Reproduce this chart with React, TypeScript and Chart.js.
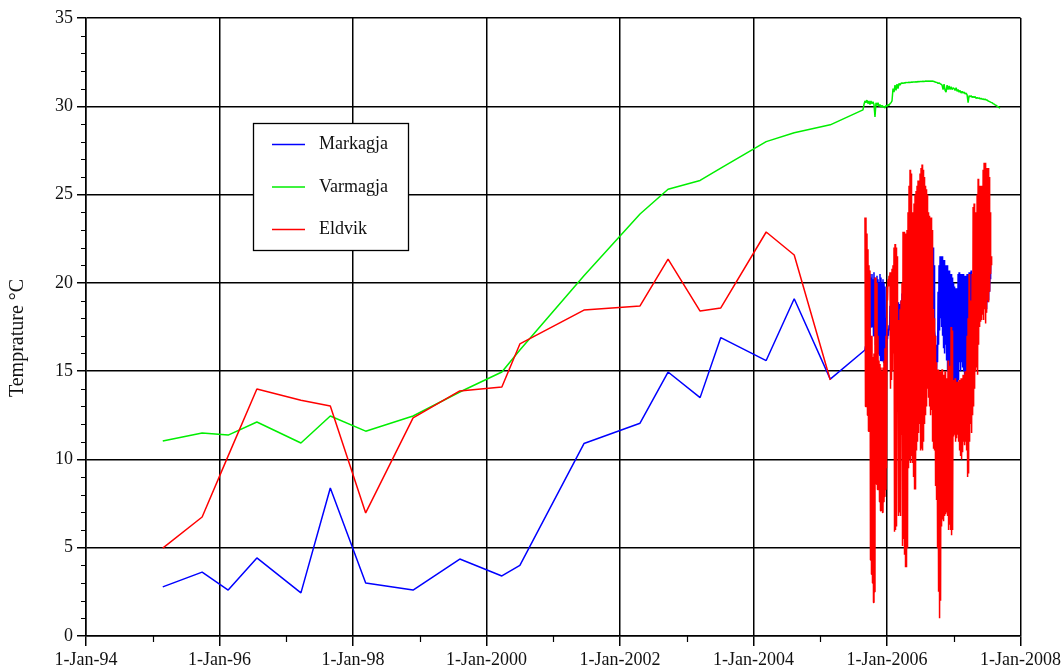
import React, { useEffect, useRef } from 'react';
import { Chart, registerables } from 'chart.js';

Chart.register(...registerables);

// Axis ticks
const X_TICK_YEARS = [1994, 1996, 1998, 2000, 2002, 2004, 2006, 2008];
const X_TICK_LABELS = ['1-Jan-94', '1-Jan-96', '1-Jan-98', '1-Jan-2000', '1-Jan-2002', '1-Jan-2004', '1-Jan-2006', '1-Jan-2008'];
const X_MINOR_YEARS = [1995, 1997, 1999, 2001, 2003, 2005, 2007];
const Y_TICKS = [0, 5, 10, 15, 20, 25, 30, 35];
const Y_MINOR_TICKS = [1, 2, 3, 4, 6, 7, 8, 9, 11, 12, 13, 14, 16, 17, 18, 19, 21, 22, 23, 24, 26, 27, 28, 29, 31, 32, 33, 34];
const Y_TITLE = 'Temprature °C';

// Spot survey dates (decimal years) and temperatures (°C)
const SURVEY_DATES = [1995.15, 1995.74, 1996.13, 1996.56, 1997.22, 1997.66, 1998.19, 1998.9, 1999.6, 2000.23, 2000.5, 2001.46, 2002.3, 2002.72, 2003.2, 2003.51, 2004.19, 2004.61, 2005.15];
const MARKAGJA_SURVEY = [2.78, 3.62, 2.6, 4.42, 2.44, 8.38, 3.0, 2.6, 4.36, 3.4, 4.0, 10.9, 12.05, 14.95, 13.5, 16.9, 15.6, 19.1, 14.55];
const VARMAGJA_SURVEY = [11.04, 11.5, 11.38, 12.12, 10.93, 12.46, 11.6, 12.46, 13.82, 14.95, 16.2, 20.4, 23.9, 25.3, 25.8, 26.5, 28.0, 28.5, 28.95];
const ELDVIK_SURVEY = [4.98, 6.74, 10.2, 13.99, 13.35, 13.03, 6.97, 12.35, 13.88, 14.1, 16.54, 18.46, 18.69, 21.35, 18.4, 18.58, 22.88, 21.58, 14.5];

// Continuous loggers (readings every ~2.7 days from late 2005)
const LOGGER_START = 2005.67;
const LOGGER_STEP = 0.0075;
const MARKAGJA_LOGGER = [
  16.2, 16.4, 17.5, 16.4, 18.5, 16.0, 20.5, 17.0, 20.7, 16.5,
  20.5, 18.0, 20.3, 17.5, 20.5, 18.0, 20.2, 17.0, 20.6, 17.2,
  20.3, 16.5, 20.0, 17.0, 20.4, 16.0, 20.2, 16.0, 20.0, 15.9,
  20.5, 15.6, 20.3, 15.6, 20.0, 15.6, 20.2, 15.5, 20.0, 15.3,
  19.8, 15.2, 18.0, 15.0, 17.2, 16.8, 17.4, 17.0, 17.6, 17.3,
  18.7, 17.5, 18.9, 17.7, 18.0, 17.7, 18.0, 17.8, 18.2, 17.9,
  18.3, 18.0, 18.5, 18.0, 18.6, 18.2, 18.9, 17.5, 18.8, 17.9,
  18.5, 16.0, 19.0, 16.0, 19.4, 18.0, 19.3, 17.5, 19.5, 18.5,
  19.8, 18.7, 19.6, 18.4, 20.0, 18.8, 19.7, 18.6, 20.1, 18.9,
  19.9, 18.8, 20.2, 19.0, 20.0, 18.7, 20.3, 19.1, 20.1, 18.9,
  20.4, 19.2, 20.2, 19.0, 20.5, 18.9, 20.3, 19.2, 20.6, 19.3,
  20.4, 19.1, 20.7, 19.4, 20.5, 19.2, 20.8, 19.5, 20.6, 19.3,
  20.9, 19.6, 20.7, 19.4, 21.0, 19.7, 20.8, 19.5, 21.1, 19.8,
  20.9, 19.6, 21.2, 19.7, 21.5, 19.0, 22.0, 18.5, 21.0, 17.3,
  17.0, 14.8, 16.0, 15.0, 16.5, 15.5, 19.5, 16.5, 21.0, 17.3,
  21.5, 18.0, 21.2, 17.5, 21.5, 17.0, 21.0, 16.3, 21.3, 16.0,
  21.0, 16.5, 20.8, 15.6, 21.0, 15.0, 20.5, 14.5, 20.7, 14.0,
  20.4, 13.6, 20.5, 13.4, 20.3, 13.4, 20.0, 13.5, 19.8, 13.5,
  19.5, 13.4, 19.7, 13.8, 19.6, 14.0, 20.5, 14.5, 20.6, 15.5,
  20.3, 15.0, 20.5, 15.5, 20.2, 15.2, 20.5, 15.0, 20.0, 14.8,
  20.4, 14.5, 20.2, 14.0, 20.5, 13.5, 20.3, 13.4, 20.6, 14.0,
  20.4, 14.0, 20.7, 15.0, 20.5, 16.0, 20.3, 17.0, 20.0, 18.0,
  20.2, 18.3, 19.8, 18.0, 20.1, 18.4, 19.9, 18.2, 20.3, 18.6,
  20.0, 18.3, 20.4, 18.7, 20.1, 18.5, 20.6, 18.8, 20.4, 18.6,
  20.8, 18.9, 21.8, 18.5, 21.5, 18.9, 21.9, 19.0, 21.5, 19.5,
  21.0, 20.2,
];
const ELDVIK_LOGGER = [
  23.7, 13.0, 23.7, 13.0, 22.8, 12.5, 21.9, 11.6, 21.0, 11.6,
  20.7, 4.3, 17.0, 3.5, 17.0, 3.0, 15.8, 1.9, 16.0, 2.5,
  20.3, 8.8, 20.3, 8.6, 20.0, 8.3, 17.0, 8.3, 15.6, 7.6,
  15.4, 7.1, 15.2, 7.4, 15.0, 7.0, 15.2, 7.6, 15.6, 7.9,
  16.3, 8.3, 17.0, 9.5, 19.8, 19.0, 20.2, 19.8, 20.4, 20.0,
  20.6, 14.0, 20.6, 14.5, 20.8, 15.0, 21.0, 16.0, 22.0, 5.9,
  22.2, 6.0, 22.0, 6.2, 21.5, 13.0, 17.9, 6.8, 17.5, 7.0,
  18.5, 6.8, 19.0, 11.4, 20.0, 5.1, 22.9, 5.5, 22.9, 4.6,
  22.5, 3.9, 22.8, 3.9, 23.0, 5.0, 24.0, 9.5, 25.5, 10.0,
  26.4, 9.8, 26.2, 10.2, 24.0, 9.8, 23.8, 9.0, 24.5, 8.3,
  25.0, 8.3, 25.2, 10.5, 25.5, 11.0, 25.8, 11.5, 25.6, 12.0,
  26.2, 10.5, 26.5, 10.6, 26.7, 10.5, 26.4, 11.0, 26.0, 12.0,
  25.5, 12.5, 25.3, 13.0, 25.0, 14.0, 24.0, 13.5, 23.8, 13.0,
  23.5, 12.5, 23.7, 12.8, 23.0, 11.0, 18.5, 10.6, 18.0, 10.5,
  17.0, 8.5, 15.5, 7.7, 15.0, 5.0, 15.1, 2.5, 15.0, 1.0,
  14.8, 2.0, 15.0, 6.2, 15.1, 6.6, 14.5, 6.5, 14.8, 6.8,
  15.0, 6.9, 14.6, 7.0, 14.2, 6.8, 15.6, 6.0, 15.3, 6.3,
  14.0, 6.0, 17.5, 5.7, 17.3, 6.0, 14.5, 11.3, 14.2, 11.4,
  14.6, 11.0, 14.0, 11.2, 14.4, 11.4, 14.0, 11.0, 14.5, 10.5,
  14.2, 10.2, 14.6, 10.0, 14.3, 10.4, 14.8, 11.0, 14.5, 10.8,
  15.0, 11.0, 14.8, 10.5, 17.0, 9.0, 18.0, 9.2, 20.5, 11.0,
  18.5, 12.0, 19.0, 11.5, 20.5, 12.5, 24.3, 13.0, 24.5, 14.0,
  23.5, 15.0, 24.0, 15.2, 25.0, 14.8, 25.9, 16.5, 25.0, 17.5,
  25.5, 17.8, 24.8, 17.9, 25.5, 18.2, 26.4, 17.9, 26.8, 18.5,
  26.8, 17.7, 26.5, 18.3, 26.0, 19.0, 26.5, 18.9, 26.0, 19.5,
  24.0, 20.5, 21.5, 21.0,
];
const ELDVIK_GAP_DATE = 2005.4;

const VARMAGJA_LOGGER_START = 2005.64;
const VARMAGJA_LOGGER_STEP = 0.015;
const VARMAGJA_LOGGER = [
  29.8, 30.1, 30.3, 30.2, 30.35, 30.15, 30.3, 30.1, 30.3, 30.15,
  30.25, 30.1, 29.4, 30.2, 30.05, 30.2, 30.0, 30.1, 29.95, 30.05,
  29.95, 30.0, 29.9, 30.05, 30.0, 30.1, 30.05, 30.15, 30.2, 30.3,
  31.0, 30.8, 31.2, 30.9, 31.25, 31.0, 31.3, 31.2, 31.3, 31.32,
  31.3, 31.33, 31.32, 31.35, 31.34, 31.35, 31.36, 31.35, 31.37, 31.36,
  31.38, 31.37, 31.38, 31.39, 31.38, 31.4, 31.39, 31.4, 31.41, 31.4,
  31.42, 31.41, 31.42, 31.43, 31.42, 31.43, 31.42, 31.43, 31.42, 31.43,
  31.42, 31.4, 31.38, 31.36, 31.35, 31.3, 31.32, 31.28, 31.25, 31.2,
  30.95, 31.25, 30.9, 30.8, 31.2, 30.95, 31.15, 30.95, 31.1, 30.95,
  31.05, 31.0, 30.9, 31.05, 30.85, 30.95, 30.8, 30.9, 30.75, 30.85,
  30.75, 30.8, 30.7, 30.75, 30.65, 30.2, 30.6, 30.55, 30.6, 30.5,
  30.55, 30.5, 30.55, 30.45, 30.5, 30.45, 30.48, 30.42, 30.45, 30.4,
  30.42, 30.38, 30.4, 30.36, 30.35, 30.3, 30.28, 30.25, 30.22, 30.2,
  30.15, 30.12, 30.08, 30.05, 30.0, 29.97, 29.93, 29.9,
];

const FONT_FAMILY = "'Liberation Serif', 'DejaVu Serif', serif";
const TEXT_COLOR = '#111';
const LINE_WIDTH = 1.5;

type Pt = { x: number; y: number | null };

const surveyPoints = (values: number[]): Pt[] => SURVEY_DATES.map((d, i) => ({ x: d, y: values[i] }));
const loggerPoints = (start: number, step: number, values: number[]): Pt[] =>
  values.map((v, i) => ({ x: start + i * step, y: v }));

// Short minor tick marks (every degree on y, every year on x) plus the rotated y title
const axisExtrasPlugin = {
  id: 'axisExtras',
  afterDraw(chart: any) {
    const { ctx } = chart;
    const xs = chart.scales.x;
    const ys = chart.scales.y;
    ctx.save();
    ctx.strokeStyle = '#000';
    ctx.lineWidth = 1.2;
    ctx.beginPath();
    for (const v of Y_MINOR_TICKS) {
      const py = Math.round(ys.getPixelForValue(v)) + 0.5;
      ctx.moveTo(ys.right - 5, py);
      ctx.lineTo(ys.right, py);
    }
    for (const yr of X_MINOR_YEARS) {
      const px = Math.round(xs.getPixelForValue(yr)) + 0.5;
      ctx.moveTo(px, xs.top);
      ctx.lineTo(px, xs.top + 6);
    }
    ctx.stroke();

    ctx.translate(18, 338);
    ctx.rotate(-Math.PI / 2);
    ctx.font = `20px ${FONT_FAMILY}`;
    ctx.fillStyle = TEXT_COLOR;
    ctx.textAlign = 'center';
    ctx.textBaseline = 'middle';
    ctx.fillText(Y_TITLE, 0, 0);
    ctx.restore();
  },
};

const legendOrder = [0, 1, 2];

const boxLegendPlugin = {
  id: 'boxLegend',
  afterDraw(chart: any) {
    const { ctx } = chart;
    const left = 253.5;
    const top = 123.5;
    const width = 155;
    const height = 127;
    ctx.save();
    ctx.fillStyle = '#fff';
    ctx.fillRect(left, top, width, height);
    ctx.strokeStyle = '#000';
    ctx.lineWidth = 1.3;
    ctx.strokeRect(left, top, width, height);
    ctx.font = `18px ${FONT_FAMILY}`;
    ctx.textBaseline = 'middle';
    ctx.textAlign = 'left';
    legendOrder.forEach((idx, i) => {
      const ds = chart.data.datasets[idx];
      const yy = 144.5 + i * 42.5;
      ctx.strokeStyle = ds.borderColor;
      ctx.lineWidth = LINE_WIDTH;
      ctx.beginPath();
      ctx.moveTo(272, yy);
      ctx.lineTo(305, yy);
      ctx.stroke();
      ctx.fillStyle = TEXT_COLOR;
      ctx.fillText(ds.label, 319, yy);
    });
    ctx.restore();
  },
};

export default function App() {
  const canvasRef = useRef<HTMLCanvasElement | null>(null);

  useEffect(() => {
    if (!canvasRef.current) return;
    const font = { family: FONT_FAMILY, size: 18 };
    const chart = new Chart(canvasRef.current, {
      type: 'line',
      data: {
        datasets: [
          {
            label: 'Markagja',
            data: [...surveyPoints(MARKAGJA_SURVEY), ...loggerPoints(LOGGER_START, LOGGER_STEP, MARKAGJA_LOGGER)],
            borderColor: '#0000ff',
            order: 1,
          },
          {
            label: 'Varmagja',
            data: [...surveyPoints(VARMAGJA_SURVEY), ...loggerPoints(VARMAGJA_LOGGER_START, VARMAGJA_LOGGER_STEP, VARMAGJA_LOGGER)],
            borderColor: '#00ee00',
            order: 2,
          },
          {
            label: 'Eldvik',
            data: [
              ...surveyPoints(ELDVIK_SURVEY),
              { x: ELDVIK_GAP_DATE, y: null },
              ...loggerPoints(LOGGER_START, LOGGER_STEP, ELDVIK_LOGGER),
            ],
            borderColor: '#ff0000',
            order: 0,
          },
        ],
      },
      options: {
        animation: false,
        responsive: false,
        maintainAspectRatio: false,
        spanGaps: false,
        elements: {
          point: { radius: 0, hoverRadius: 0 },
          line: { borderWidth: LINE_WIDTH, tension: 0, borderJoinStyle: 'bevel', fill: false },
        },
        layout: { padding: { top: 18, right: 43.5, bottom: 0, left: 0 } },
        plugins: {
          legend: { display: false },
          tooltip: { enabled: false },
        },
        scales: {
          x: {
            type: 'linear',
            min: 1994,
            max: 2008,
            afterBuildTicks: (scale: any) => {
              scale.ticks = X_TICK_YEARS.map((v) => ({ value: v }));
            },
            afterFit: (scale: any) => {
              scale.height = 35;
            },
            ticks: {
              font,
              color: TEXT_COLOR,
              maxRotation: 0,
              autoSkip: false,
              padding: 3,
              callback: (value: any) => {
                const i = X_TICK_YEARS.indexOf(Number(value));
                return i >= 0 ? X_TICK_LABELS[i] : '';
              },
            },
            grid: { color: '#000', lineWidth: 1.5, tickLength: 10, drawOnChartArea: true },
            border: { color: '#000', width: 1.5 },
          },
          y: {
            type: 'linear',
            min: 0,
            max: 35,
            afterBuildTicks: (scale: any) => {
              scale.ticks = Y_TICKS.map((v) => ({ value: v }));
            },
            afterFit: (scale: any) => {
              scale.width = 86;
            },
            ticks: { font, color: TEXT_COLOR, padding: 4 },
            grid: { color: '#000', lineWidth: 1.5, tickLength: 9, drawOnChartArea: true },
            border: { color: '#000', width: 1.5 },
          },
        },
      },
      plugins: [axisExtrasPlugin, boxLegendPlugin],
    } as any);
    return () => chart.destroy();
  }, []);

  return (
    <div style={{ position: 'absolute', left: 0, top: 0, width: 1064, height: 671, background: '#fff' }}>
      <canvas ref={canvasRef} width={1064} height={671} style={{ width: 1064, height: 671, display: 'block' }} />
    </div>
  );
}
